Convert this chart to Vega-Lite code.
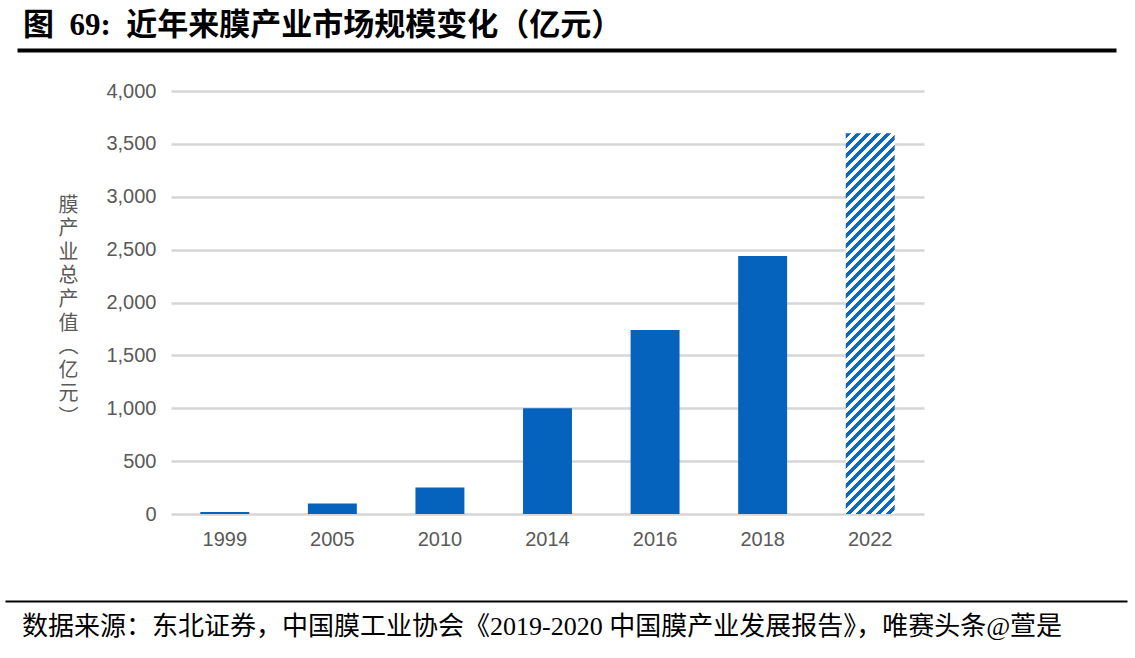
{
  "$schema": "https://vega.github.io/schema/vega-lite/v6.json",
  "background": "white",
  "padding": {"left": 5, "top": 10, "right": 8, "bottom": 20},
  "autosize": {"type": "pad"},
  "bounds": "full",
  "spacing": 10,
  "title": {
    "text": "图\u00a0\u00a069:\u00a0\u00a0近年来膜产业市场规模变化（亿元）",
    "anchor": "start",
    "frame": "group",
    "font": "'Liberation Serif', 'Noto Sans CJK SC'",
    "fontSize": 31,
    "fontWeight": "bold",
    "color": "#000000",
    "baseline": "alphabetic",
    "offset": -16,
    "dx": 18
  },
  "vconcat": [
    {
      "hconcat": [
        {"width": 12, "height": 1, "data": {"values": [{}]}, "mark": {"type": "point", "opacity": 0, "size": 0, "strokeWidth": 0}, "encoding": {}},
        {
          "width": 1099,
          "height": 21,
          "data": {"values": [{"v": 0.5}]},
          "mark": {"type": "point", "opacity": 0, "size": 0, "strokeWidth": 0},
          "encoding": {
            "x": {"field": "v", "type": "quantitative", "scale": {"domain": [0, 1]},
              "axis": {"orient": "top", "domain": true, "domainColor": "#000000", "domainWidth": 4, "ticks": false, "labels": false, "grid": false, "title": null}}
          }
        }
      ],
      "spacing": 0,
      "bounds": "flush"
    },
    {
      "hconcat": [
        {"width": 166, "height": 1, "data": {"values": [{}]}, "mark": {"type": "point", "opacity": 0, "size": 0, "strokeWidth": 0}, "encoding": {}},
        {
          "width": 753,
          "height": 423,
          "data": {
            "values": [
              {"year": "1999", "value": 20, "kind": "actual"},
              {"year": "2005", "value": 100, "kind": "actual"},
              {"year": "2010", "value": 250, "kind": "actual"},
              {"year": "2014", "value": 1000, "kind": "actual"},
              {"year": "2016", "value": 1740, "kind": "actual"},
              {"year": "2018", "value": 2440, "kind": "actual"},
              {"year": "2022", "value": 3600, "kind": "forecast"}
            ]
          },
          "encoding": {
            "x": {
              "field": "year", "type": "ordinal",
              "scale": {"paddingInner": 0.545, "paddingOuter": 0.2725},
              "axis": {"title": null, "labelAngle": 0, "ticks": false, "domain": false, "grid": false,
                "labelFont": "Liberation Sans", "labelFontSize": 20, "labelColor": "#595959", "labelPadding": 15}
            },
            "y": {
              "field": "value", "type": "quantitative",
              "scale": {"domain": [0, 4000], "nice": false},
              "axis": {
                "values": [0, 500, 1000, 1500, 2000, 2500, 3000, 3500, 4000],
                "format": ",.0f",
                "ticks": false, "domain": false,
                "grid": true, "gridColor": "#D6D6D6", "gridWidth": 2.5,
                "labelFont": "Liberation Sans", "labelFontSize": 20, "labelColor": "#595959", "labelPadding": 15,
                "title": ["膜", "产", "业", "总", "产", "值", "︵", "亿", "元", "︶"],
                "titleAngle": 0, "titleX": -103, "titleY": 114, "titleAlign": "center", "titleBaseline": "middle",
                "titleFont": "Noto Sans CJK SC", "titleFontSize": 20, "titleFontWeight": "normal",
                "titleColor": "#595959", "titleLineHeight": 23.6
              }
            }
          },
          "layer": [
            {
              "transform": [{"filter": "datum.kind === 'actual'"}],
              "mark": {"type": "bar", "fill": "#0563BD"}
            },
            {
              "transform": [{"filter": "datum.kind === 'forecast'"}],
              "mark": {
                "type": "bar",
                "fill": {
                  "gradient": "linear", "x1": 0, "y1": 0, "x2": 0.16612, "y2": 1.292,
                  "stops": [
                    {"offset": 0, "color": "#0C68C0"}, {"offset": 0.011, "color": "#0C68C0"}, {"offset": 0.011, "color": "#ffffff"}, {"offset": 0.02, "color": "#ffffff"},
                    {"offset": 0.02, "color": "#0C68C0"}, {"offset": 0.031, "color": "#0C68C0"}, {"offset": 0.031, "color": "#ffffff"}, {"offset": 0.04, "color": "#ffffff"},
                    {"offset": 0.04, "color": "#0C68C0"}, {"offset": 0.051, "color": "#0C68C0"}, {"offset": 0.051, "color": "#ffffff"}, {"offset": 0.06, "color": "#ffffff"},
                    {"offset": 0.06, "color": "#0C68C0"}, {"offset": 0.071, "color": "#0C68C0"}, {"offset": 0.071, "color": "#ffffff"}, {"offset": 0.08, "color": "#ffffff"},
                    {"offset": 0.08, "color": "#0C68C0"}, {"offset": 0.091, "color": "#0C68C0"}, {"offset": 0.091, "color": "#ffffff"}, {"offset": 0.1, "color": "#ffffff"},
                    {"offset": 0.1, "color": "#0C68C0"}, {"offset": 0.111, "color": "#0C68C0"}, {"offset": 0.111, "color": "#ffffff"}, {"offset": 0.12, "color": "#ffffff"},
                    {"offset": 0.12, "color": "#0C68C0"}, {"offset": 0.131, "color": "#0C68C0"}, {"offset": 0.131, "color": "#ffffff"}, {"offset": 0.14, "color": "#ffffff"},
                    {"offset": 0.14, "color": "#0C68C0"}, {"offset": 0.151, "color": "#0C68C0"}, {"offset": 0.151, "color": "#ffffff"}, {"offset": 0.16, "color": "#ffffff"},
                    {"offset": 0.16, "color": "#0C68C0"}, {"offset": 0.171, "color": "#0C68C0"}, {"offset": 0.171, "color": "#ffffff"}, {"offset": 0.18, "color": "#ffffff"},
                    {"offset": 0.18, "color": "#0C68C0"}, {"offset": 0.191, "color": "#0C68C0"}, {"offset": 0.191, "color": "#ffffff"}, {"offset": 0.2, "color": "#ffffff"},
                    {"offset": 0.2, "color": "#0C68C0"}, {"offset": 0.211, "color": "#0C68C0"}, {"offset": 0.211, "color": "#ffffff"}, {"offset": 0.22, "color": "#ffffff"},
                    {"offset": 0.22, "color": "#0C68C0"}, {"offset": 0.231, "color": "#0C68C0"}, {"offset": 0.231, "color": "#ffffff"}, {"offset": 0.24, "color": "#ffffff"},
                    {"offset": 0.24, "color": "#0C68C0"}, {"offset": 0.251, "color": "#0C68C0"}, {"offset": 0.251, "color": "#ffffff"}, {"offset": 0.26, "color": "#ffffff"},
                    {"offset": 0.26, "color": "#0C68C0"}, {"offset": 0.271, "color": "#0C68C0"}, {"offset": 0.271, "color": "#ffffff"}, {"offset": 0.28, "color": "#ffffff"},
                    {"offset": 0.28, "color": "#0C68C0"}, {"offset": 0.291, "color": "#0C68C0"}, {"offset": 0.291, "color": "#ffffff"}, {"offset": 0.3, "color": "#ffffff"},
                    {"offset": 0.3, "color": "#0C68C0"}, {"offset": 0.311, "color": "#0C68C0"}, {"offset": 0.311, "color": "#ffffff"}, {"offset": 0.32, "color": "#ffffff"},
                    {"offset": 0.32, "color": "#0C68C0"}, {"offset": 0.331, "color": "#0C68C0"}, {"offset": 0.331, "color": "#ffffff"}, {"offset": 0.34, "color": "#ffffff"},
                    {"offset": 0.34, "color": "#0C68C0"}, {"offset": 0.351, "color": "#0C68C0"}, {"offset": 0.351, "color": "#ffffff"}, {"offset": 0.36, "color": "#ffffff"},
                    {"offset": 0.36, "color": "#0C68C0"}, {"offset": 0.371, "color": "#0C68C0"}, {"offset": 0.371, "color": "#ffffff"}, {"offset": 0.38, "color": "#ffffff"},
                    {"offset": 0.38, "color": "#0C68C0"}, {"offset": 0.391, "color": "#0C68C0"}, {"offset": 0.391, "color": "#ffffff"}, {"offset": 0.4, "color": "#ffffff"},
                    {"offset": 0.4, "color": "#0C68C0"}, {"offset": 0.411, "color": "#0C68C0"}, {"offset": 0.411, "color": "#ffffff"}, {"offset": 0.42, "color": "#ffffff"},
                    {"offset": 0.42, "color": "#0C68C0"}, {"offset": 0.431, "color": "#0C68C0"}, {"offset": 0.431, "color": "#ffffff"}, {"offset": 0.44, "color": "#ffffff"},
                    {"offset": 0.44, "color": "#0C68C0"}, {"offset": 0.451, "color": "#0C68C0"}, {"offset": 0.451, "color": "#ffffff"}, {"offset": 0.46, "color": "#ffffff"},
                    {"offset": 0.46, "color": "#0C68C0"}, {"offset": 0.471, "color": "#0C68C0"}, {"offset": 0.471, "color": "#ffffff"}, {"offset": 0.48, "color": "#ffffff"},
                    {"offset": 0.48, "color": "#0C68C0"}, {"offset": 0.491, "color": "#0C68C0"}, {"offset": 0.491, "color": "#ffffff"}, {"offset": 0.5, "color": "#ffffff"},
                    {"offset": 0.5, "color": "#0C68C0"}, {"offset": 0.511, "color": "#0C68C0"}, {"offset": 0.511, "color": "#ffffff"}, {"offset": 0.52, "color": "#ffffff"},
                    {"offset": 0.52, "color": "#0C68C0"}, {"offset": 0.531, "color": "#0C68C0"}, {"offset": 0.531, "color": "#ffffff"}, {"offset": 0.54, "color": "#ffffff"},
                    {"offset": 0.54, "color": "#0C68C0"}, {"offset": 0.551, "color": "#0C68C0"}, {"offset": 0.551, "color": "#ffffff"}, {"offset": 0.56, "color": "#ffffff"},
                    {"offset": 0.56, "color": "#0C68C0"}, {"offset": 0.571, "color": "#0C68C0"}, {"offset": 0.571, "color": "#ffffff"}, {"offset": 0.58, "color": "#ffffff"},
                    {"offset": 0.58, "color": "#0C68C0"}, {"offset": 0.591, "color": "#0C68C0"}, {"offset": 0.591, "color": "#ffffff"}, {"offset": 0.6, "color": "#ffffff"},
                    {"offset": 0.6, "color": "#0C68C0"}, {"offset": 0.611, "color": "#0C68C0"}, {"offset": 0.611, "color": "#ffffff"}, {"offset": 0.62, "color": "#ffffff"},
                    {"offset": 0.62, "color": "#0C68C0"}, {"offset": 0.631, "color": "#0C68C0"}, {"offset": 0.631, "color": "#ffffff"}, {"offset": 0.64, "color": "#ffffff"},
                    {"offset": 0.64, "color": "#0C68C0"}, {"offset": 0.651, "color": "#0C68C0"}, {"offset": 0.651, "color": "#ffffff"}, {"offset": 0.66, "color": "#ffffff"},
                    {"offset": 0.66, "color": "#0C68C0"}, {"offset": 0.671, "color": "#0C68C0"}, {"offset": 0.671, "color": "#ffffff"}, {"offset": 0.68, "color": "#ffffff"},
                    {"offset": 0.68, "color": "#0C68C0"}, {"offset": 0.691, "color": "#0C68C0"}, {"offset": 0.691, "color": "#ffffff"}, {"offset": 0.7, "color": "#ffffff"},
                    {"offset": 0.7, "color": "#0C68C0"}, {"offset": 0.711, "color": "#0C68C0"}, {"offset": 0.711, "color": "#ffffff"}, {"offset": 0.72, "color": "#ffffff"},
                    {"offset": 0.72, "color": "#0C68C0"}, {"offset": 0.731, "color": "#0C68C0"}, {"offset": 0.731, "color": "#ffffff"}, {"offset": 0.74, "color": "#ffffff"},
                    {"offset": 0.74, "color": "#0C68C0"}, {"offset": 0.751, "color": "#0C68C0"}, {"offset": 0.751, "color": "#ffffff"}, {"offset": 0.76, "color": "#ffffff"},
                    {"offset": 0.76, "color": "#0C68C0"}, {"offset": 0.771, "color": "#0C68C0"}, {"offset": 0.771, "color": "#ffffff"}, {"offset": 0.78, "color": "#ffffff"},
                    {"offset": 0.78, "color": "#0C68C0"}, {"offset": 0.791, "color": "#0C68C0"}, {"offset": 0.791, "color": "#ffffff"}, {"offset": 0.8, "color": "#ffffff"},
                    {"offset": 0.8, "color": "#0C68C0"}, {"offset": 0.811, "color": "#0C68C0"}, {"offset": 0.811, "color": "#ffffff"}, {"offset": 0.82, "color": "#ffffff"},
                    {"offset": 0.82, "color": "#0C68C0"}, {"offset": 0.831, "color": "#0C68C0"}, {"offset": 0.831, "color": "#ffffff"}, {"offset": 0.84, "color": "#ffffff"},
                    {"offset": 0.84, "color": "#0C68C0"}, {"offset": 0.851, "color": "#0C68C0"}, {"offset": 0.851, "color": "#ffffff"}, {"offset": 0.86, "color": "#ffffff"},
                    {"offset": 0.86, "color": "#0C68C0"}, {"offset": 0.871, "color": "#0C68C0"}, {"offset": 0.871, "color": "#ffffff"}, {"offset": 0.88, "color": "#ffffff"},
                    {"offset": 0.88, "color": "#0C68C0"}, {"offset": 0.891, "color": "#0C68C0"}, {"offset": 0.891, "color": "#ffffff"}, {"offset": 1, "color": "#ffffff"}
                  ]
                }
              }
            }
          ]
        }
      ],
      "spacing": 0,
      "bounds": "flush"
    },
    {
      "width": 1122,
      "height": 42,
      "data": {"values": [{"v": 0.5}]},
      "mark": {"type": "point", "opacity": 0, "size": 0, "strokeWidth": 0},
      "encoding": {
        "x": {"field": "v", "type": "quantitative", "scale": {"domain": [0, 1]},
          "axis": {"orient": "bottom", "domain": true, "domainColor": "#000000", "domainWidth": 2, "ticks": false, "labels": false, "grid": false, "title": null}}
      },
      "title": {
        "text": "数据来源：东北证券，中国膜工业协会《2019-2020 中国膜产业发展报告》，唯赛头条@萱是",
        "orient": "bottom",
        "anchor": "start",
        "frame": "group",
        "font": "'Liberation Serif', 'Noto Sans CJK SC'",
        "fontSize": 26,
        "fontWeight": "normal",
        "color": "#000000",
        "baseline": "top",
        "offset": 13,
        "dx": 17
      }
    }
  ],
  "config": {
    "view": {"stroke": null},
    "font": "Liberation Sans"
  }
}
